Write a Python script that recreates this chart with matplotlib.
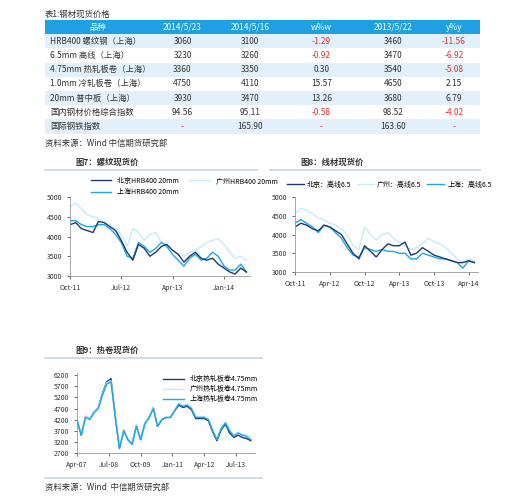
import matplotlib
matplotlib.use("Agg")
import matplotlib.pyplot as plt
import matplotlib.dates as mdates
import pandas as pd
from matplotlib.patches import Rectangle

plt.rcParams["font.family"] = ["Noto Sans CJK SC", "DejaVu Sans"]

# ---- table data ----
table_cols = ["品种", "2014/5/23", "2014/5/16", "w%w", "2013/5/22", "y%y"]
table_names = ["HRB400 螺纹钢（上海）", "6.5mm 高线（上海）", "4.75mm 热轧板卷（上海）",
               "1.0mm 冷轧板卷（上海）", "20mm 普中板（上海）", "国内钢材价格综合指数", "国际钢铁指数"]
price_now = ["3060", "3230", "3360", "4750", "3930", "94.56", "-"]
price_week = ["3100", "3260", "3350", "4110", "3470", "95.11", "165.90"]
chg_week = ["-1.29", "-0.92", "0.30", "15.57", "13.26", "-0.58", "-"]
price_year = ["3460", "3470", "3540", "4650", "3680", "98.52", "163.60"]
chg_year = ["-11.56", "-6.92", "-5.08", "2.15", "6.79", "-4.02", "-"]

# ---- chart 7: rebar, monthly from Oct-11 ----
rebar_bj = [4300, 4350, 4200, 4150, 4100, 4380, 4350, 4250, 4150, 3900, 3600, 3400, 3800, 3700, 3500, 3600,
            3750, 3800, 3650, 3550, 3350, 3500, 3600, 3450, 3400, 3450, 3300, 3200, 3100, 3050, 3200, 3100]
rebar_gz = [4750, 4850, 4700, 4550, 4500, 4450, 4350, 4300, 4200, 4050, 3750, 4200, 4100, 3900, 4050, 4100,
            3850, 3800, 3650, 3550, 3500, 3600, 3650, 3750, 3850, 3900, 3950, 3800, 3600, 3450, 3500, 3400]
rebar_sh = [4400, 4400, 4300, 4250, 4250, 4300, 4300, 4200, 4050, 3850, 3500, 3450, 3850, 3750, 3600, 3700,
            3850, 3750, 3550, 3400, 3250, 3450, 3550, 3400, 3450, 3600, 3500, 3250, 3150, 3150, 3300, 3100]

# ---- chart 8: wire rod, monthly from Oct-11 ----
wire_bj = [4200, 4300, 4250, 4150, 4100, 4250, 4200, 4100, 4000, 3750, 3500, 3350, 3700, 3550, 3400, 3600,
           3750, 3700, 3700, 3800, 3450, 3500, 3650, 3550, 3450, 3400, 3350, 3300, 3250, 3250, 3300, 3250]
wire_gz = [4550, 4700, 4650, 4550, 4450, 4400, 4300, 4250, 4150, 4000, 3700, 3600, 4200, 4000, 3850, 4000,
           4050, 3900, 3800, 3700, 3600, 3650, 3750, 3900, 3800, 3750, 3650, 3500, 3350, 3250, 3350, 3300]
wire_sh = [4300, 4400, 4300, 4200, 4050, 4250, 4200, 4050, 3900, 3650, 3450, 3400, 3650, 3600, 3550, 3600,
           3550, 3550, 3500, 3500, 3350, 3350, 3500, 3450, 3400, 3350, 3350, 3300, 3250, 3100, 3300, 3250]

# ---- chart 9: hot rolled coil, bimonthly from Apr-07 ----
hrc_sh = [4200, 3500, 4300, 4200, 4500, 4700, 5300, 5800, 5900, 4300, 2900, 3700, 3300, 3100, 3900, 3300,
          4000, 4300, 4700, 3900, 4200, 4300, 4300, 4600, 4900, 4800, 4850, 4700, 4300, 4300, 4300, 4200,
          3700, 3300, 3800, 4050, 3700, 3450, 3600, 3500, 3450, 3300]
hrc_bj = [4200, 3500, 4350, 4250, 4550, 4750, 5400, 5900, 6050, 4400, 2900, 3750, 3300, 3100, 3950, 3300,
          4050, 4300, 4750, 3900, 4200, 4300, 4300, 4600, 4850, 4750, 4800, 4650, 4250, 4250, 4250, 4150,
          3650, 3250, 3750, 4000, 3600, 3400, 3500, 3400, 3350, 3250]
hrc_gz = [4250, 3550, 4350, 4250, 4550, 4750, 5350, 5850, 5950, 4350, 2950, 3750, 3350, 3150, 3950, 3350,
          4050, 4350, 4750, 3950, 4250, 4350, 4350, 4650, 4950, 4850, 4900, 4750, 4350, 4350, 4350, 4250,
          3750, 3350, 3850, 4100, 3750, 3500, 3650, 3550, 3500, 3450]

NAVY = "#1F3A6E"
LIGHT = "#C8EAF8"
BLUE = "#1BA6E8"
RED = "#E8312F"
TXT = "#333333"

fig = plt.figure(figsize=(5.27, 5.0), dpi=100)


def fx(px):
    return px / 527


def fy(py):
    return 1 - py / 500


# ---- table ----
fig.text(fx(45), fy(14), "表1:钢材现货价格", fontsize=6, color=TXT, va="center")
col_x = [45, 150, 215, 285, 358, 428, 480]
row_h = 14.2
top = 20
for r in range(8):
    y0 = top + r * row_h
    face = "#1DA1E2" if r == 0 else ("#E1F0FA" if r % 2 == 1 else "white")
    fig.patches.append(Rectangle((fx(45), fy(y0 + row_h)), fx(435), row_h / 500,
                                 transform=fig.transFigure, facecolor=face, edgecolor="none"))
    yc = fy(y0 + row_h / 2)
    if r == 0:
        for c, label in enumerate(table_cols):
            fig.text(fx((col_x[c] + col_x[c + 1]) / 2), yc, label, fontsize=6, color="white",
                     ha="center", va="center")
        continue
    i = r - 1
    vals = [price_now[i], price_week[i], chg_week[i], price_year[i], chg_year[i]]
    fig.text(fx(50), yc, table_names[i], fontsize=6, color=TXT, va="center")
    for c, v in enumerate(vals, start=1):
        col = RED if (v.startswith("-")) else TXT
        fig.text(fx((col_x[c] + col_x[c + 1]) / 2), yc, v, fontsize=6, color=col,
                 ha="center", va="center")
fig.text(fx(45), fy(143), "资料来源：Wind 中信期货研究部", fontsize=6, color=TXT, va="center")


def style(ax, ylim, yticks):
    for s in ["top", "right"]:
        ax.spines[s].set_visible(False)
    for s in ["left", "bottom"]:
        ax.spines[s].set_color("#999999")
        ax.spines[s].set_linewidth(0.6)
    ax.set_ylim(*ylim)
    ax.set_yticks(yticks)
    ax.tick_params(labelsize=5, colors=TXT, length=2, width=0.5)
    ax.set_facecolor("none")


def header(title, x0, x1, y):
    fig.text(fx(x0 + 30), fy(y), title, fontsize=6, color=TXT, va="center", weight="bold")
    fig.add_artist(plt.Line2D([fx(x0), fx(x1)], [fy(y + 8), fy(y + 8)], color="#C9D6E3", lw=1.2))


# ---- chart 7 ----
header("图7：螺纹现货价", 45, 257, 162)
ax7 = fig.add_axes([fx(70), fy(276), fx(180), 79 / 500])
d7 = pd.date_range("2011-10-01", periods=len(rebar_bj), freq="MS")
ax7.plot(d7, rebar_gz, color=LIGHT, lw=1.0, label="广州HRB400 20mm")
ax7.plot(d7, rebar_sh, color=BLUE, lw=1.0, label="上海HRB400 20mm")
ax7.plot(d7, rebar_bj, color=NAVY, lw=1.0, label="北京HRB400 20mm")
style(ax7, (3000, 5000), [3000, 3500, 4000, 4500, 5000])
ax7.set_xlim(pd.Timestamp("2011-10-01"), pd.Timestamp("2014-05-20"))
ax7.set_xticks(pd.to_datetime(["2011-10-01", "2012-07-01", "2013-04-01", "2014-01-01"]))
ax7.xaxis.set_major_formatter(mdates.DateFormatter("%b-%y"))
h, l = ax7.get_legend_handles_labels()
ax7.legend([h[2], h[1], h[0]], [l[2], l[1], l[0]], loc="lower left", bbox_to_anchor=(0.08, 0.93),
           ncol=2, frameon=False, fontsize=5, handlelength=3, columnspacing=1.5, labelspacing=0.5)

# ---- chart 8 ----
header("图8：线材现货价", 270, 480, 162)
ax8 = fig.add_axes([fx(295), fy(272), fx(183), 75 / 500])
ax8.plot(d7, wire_gz, color=LIGHT, lw=1.0, label="广州：高线6.5")
ax8.plot(d7, wire_sh, color=BLUE, lw=1.0, label="上海：高线6.5")
ax8.plot(d7, wire_bj, color=NAVY, lw=1.0, label="北京：高线6.5")
style(ax8, (3000, 5000), [3000, 3500, 4000, 4500, 5000])
ax8.set_xlim(pd.Timestamp("2011-10-01"), pd.Timestamp("2014-05-20"))
ax8.set_xticks(pd.to_datetime(["2011-10-01", "2012-04-01", "2012-10-01", "2013-04-01",
                               "2013-10-01", "2014-04-01"]))
ax8.xaxis.set_major_formatter(mdates.DateFormatter("%b-%y"))
h, l = ax8.get_legend_handles_labels()
ax8.legend([h[2], h[0], h[1]], [l[2], l[0], l[1]], loc="lower left", bbox_to_anchor=(-0.08, 1.03),
           ncol=3, frameon=False, fontsize=5, handlelength=2.5, columnspacing=0.8, handletextpad=0.4)

# ---- chart 9 ----
header("图9：热卷现货价", 45, 262, 350)
ax9 = fig.add_axes([fx(77), fy(453), fx(178), 80 / 500])
d9 = pd.date_range("2007-04-01", periods=len(hrc_sh), freq="2MS")
ax9.plot(d9, hrc_bj, color=NAVY, lw=1.0, label="北京热轧板卷4.75mm")
ax9.plot(d9, hrc_gz, color=LIGHT, lw=1.0, label="广州热轧板卷4.75mm")
ax9.plot(d9, hrc_sh, color=BLUE, lw=1.0, label="上海热轧板卷4.75mm")
style(ax9, (2700, 6300), list(range(2700, 6201, 500)))
ax9.set_xlim(pd.Timestamp("2007-04-01"), pd.Timestamp("2014-04-01"))
ax9.set_xticks(pd.to_datetime(["2007-04-01", "2008-07-01", "2009-10-01", "2011-01-01",
                               "2012-04-01", "2013-07-01"]))
ax9.xaxis.set_major_formatter(mdates.DateFormatter("%b-%y"))
ax9.legend(loc="upper right", bbox_to_anchor=(1.05, 1.05), frameon=False, fontsize=5,
           handlelength=3, labelspacing=0.3)
fig.add_artist(plt.Line2D([fx(45), fx(262)], [fy(478), fy(478)], color="#C9D6E3", lw=1.2))
fig.text(fx(45), fy(487), "资料来源：Wind  中信期货研究部", fontsize=6, color=TXT, va="center")

fig.savefig("out.png", dpi=100)
